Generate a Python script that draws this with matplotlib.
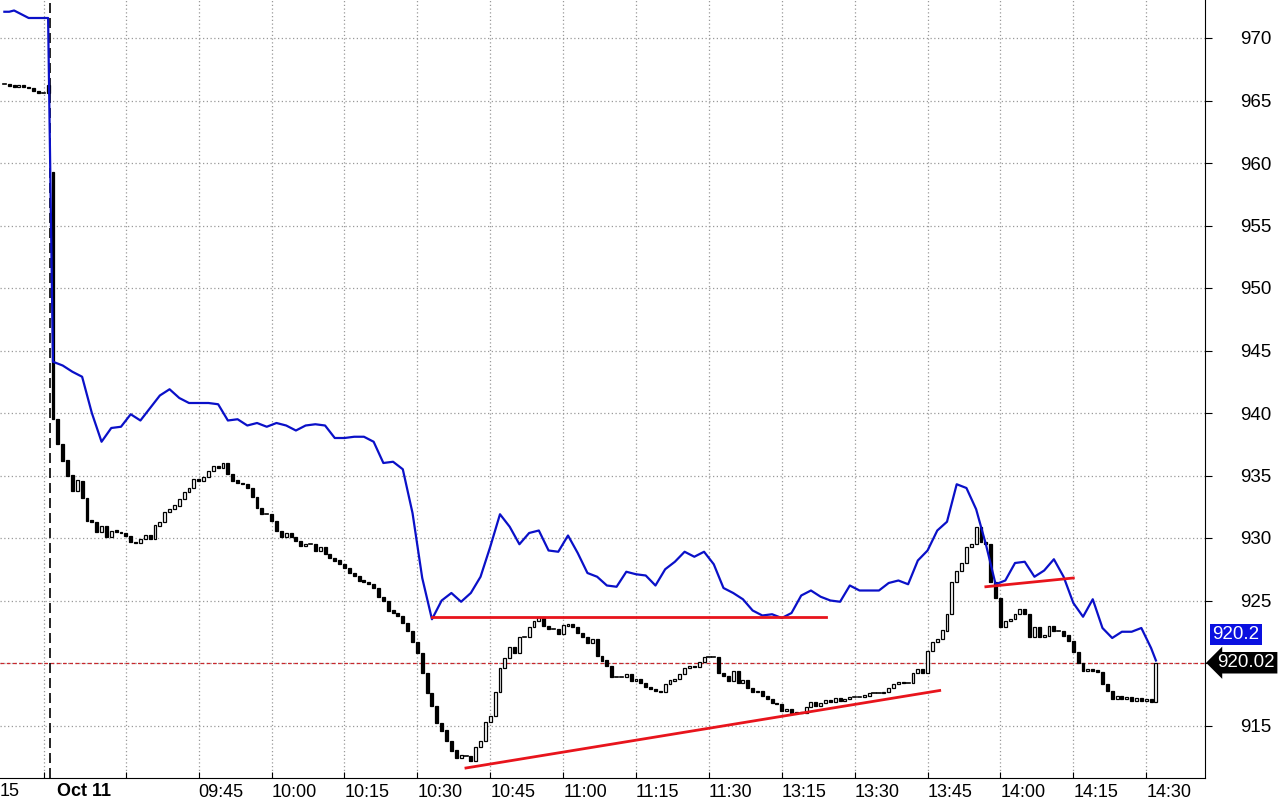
import numpy as np
import matplotlib
matplotlib.use('Agg')
import matplotlib.pyplot as plt

plt.rcParams['font.family'] = ['Liberation Sans', 'DejaVu Sans']

# previous session tail (bars -10..-1) and today's closes (bars 0..227)
prev_closes = [966.3, 966.2, 966.1, 966.2, 966.1, 966.0, 965.8, 965.6, 965.6, 966.2]
closes = [
    939.5, 937.5, 936.2, 935.0, 933.8, 934.6, 933.2, 931.4, 931.3, 930.5,
    931.0, 930.1, 930.6, 930.5, 930.4, 930.2, 929.7, 929.6, 929.9, 930.2,
    929.9, 931.0, 931.3, 932.1, 932.3, 932.6, 933.1, 933.7, 934.0, 934.7,
    934.6, 934.9, 935.4, 935.8, 935.6, 936.0, 935.1, 934.6, 934.4, 934.3,
    934.0, 933.3, 932.4, 931.9, 931.9, 931.4, 930.6, 930.1, 930.4, 930.1,
    929.8, 929.4, 929.5, 929.5, 929.0, 929.3, 928.7, 928.4, 928.2, 927.9,
    927.6, 927.2, 927.0, 926.6, 926.5, 926.3, 926.0, 925.3, 925.0, 924.2,
    924.0, 923.8, 923.2, 922.6, 921.7, 920.8, 919.2, 917.6, 916.6, 915.2,
    914.6, 913.8, 913.0, 912.4, 912.6, 912.6, 912.2, 913.3, 913.8, 915.3,
    915.8, 917.7, 919.6, 920.4, 921.3, 920.8, 922.1, 922.1, 922.9, 923.4,
    923.7, 923.0, 922.7, 922.7, 922.3, 923.0, 923.1, 922.9, 922.4, 922.1,
    921.6, 921.9, 920.6, 920.2, 919.8, 918.9, 918.9, 918.9, 919.1, 918.6,
    918.7, 918.4, 918.1, 917.9, 917.8, 917.7, 918.3, 918.6, 918.7, 919.1,
    919.6, 919.8, 919.7, 920.1, 920.5, 920.5, 920.5, 919.2, 919.0, 918.6,
    919.4, 918.4, 918.6, 918.0, 917.7, 917.8, 917.4, 917.1, 916.8, 916.7,
    916.2, 916.3, 916.0, 916.1, 916.0, 916.5, 916.9, 916.6, 916.8, 917.0,
    916.9, 917.2, 917.0, 917.1, 917.3, 917.3, 917.3, 917.4, 917.6, 917.6,
    917.6, 917.7, 918.0, 918.3, 918.5, 918.4, 918.4, 919.2, 919.5, 919.2,
    921.0, 921.7, 921.9, 922.6, 923.9, 926.5, 927.4, 928.0, 929.3, 929.5,
    930.9, 929.7, 929.5, 926.5, 925.2, 922.9, 923.4, 923.5, 923.9, 924.3,
    923.9, 922.1, 922.9, 922.1, 922.2, 923.0, 922.6, 922.6, 922.2, 921.8,
    920.9, 920.0, 919.4, 919.5, 919.4, 919.3, 918.3, 917.8, 917.1, 917.4,
    917.1, 917.3, 917.0, 917.2, 917.0, 917.1, 916.9, 920.0,
]
first_open = 959.3

# blue comparison line: previous session, then every second bar
blue_prev = [972.1, 972.1, 972.2, 972.0, 971.8, 971.6, 971.6, 971.6, 971.6, 971.6]
blue = [
    944.1, 943.8, 943.3, 942.9, 940.0, 937.7, 938.8, 938.9, 939.9, 939.4,
    940.4, 941.4, 941.9, 941.2, 940.8, 940.8, 940.8, 940.7, 939.4, 939.5,
    939.0, 939.2, 938.9, 939.2, 939.0, 938.6, 939.0, 939.1, 939.0, 938.0,
    938.0, 938.1, 938.1, 937.7, 936.0, 936.1, 935.5, 932.0, 926.8, 923.5,
    925.0, 925.6, 924.9, 925.6, 926.9, 929.3, 931.9, 930.9, 929.5, 930.4,
    930.6, 929.0, 928.9, 930.2, 928.8, 927.2, 926.9, 926.2, 926.1, 927.3,
    927.1, 927.0, 926.2, 927.5, 928.1, 928.9, 928.5, 928.9, 927.9, 926.0,
    925.6, 925.1, 924.2, 923.8, 923.9, 923.6, 924.0, 925.4, 925.8, 925.3,
    925.0, 924.9, 926.2, 925.8, 925.8, 925.8, 926.4, 926.6, 926.3, 928.2,
    929.0, 930.6, 931.3, 934.3, 934.0, 932.3, 929.5, 926.3, 926.6, 928.0,
    928.1, 926.9, 927.4, 928.3, 926.9, 924.8, 923.7, 925.1, 922.8, 922.0,
    922.5, 922.5, 922.8, 921.2,
]
blue_last = 920.2

tick_labels = ['', '09:45', '10:00', '10:15', '10:30', '10:45', '11:00', '11:15',
               '11:30', '13:15', '13:30', '13:45', '14:00', '14:15', '14:30']
y_ticks = list(range(915, 971, 5))

# trend lines drawn on the chart: (bar_start, value_start, bar_end, value_end)
trend_lines = [(78, 923.7, 159, 923.7), (85, 911.6, 182.5, 917.8), (192, 926.1, 210, 926.8)]
last_price = 920.02

fig = plt.figure(figsize=(12.86, 8.07), dpi=100)
ax = fig.add_axes([0, 29 / 807, 1205 / 1286, 778 / 807])

all_closes = prev_closes + closes
opens = [prev_closes[0]] + all_closes[:-1]
opens[len(prev_closes)] = first_open
xs = np.arange(-len(prev_closes), len(closes))
for x, o, c in zip(xs, opens, all_closes):
    h = abs(c - o)
    if h < 0.08:
        ax.plot([x - 0.35, x + 0.35], [c, c], color='black', lw=1.2, zorder=3)
        continue
    fc = 'white' if c > o else 'black'
    ax.bar(x, h, bottom=min(o, c), width=0.6, color=fc, edgecolor='black', lw=0.9, zorder=3)

bx = list(range(-len(blue_prev), 0)) + list(range(0, 2 * len(blue), 2)) + [len(closes) - 1]
ax.plot(bx, blue_prev + blue + [blue_last], color='#0a10c8', lw=1.6, zorder=4)

for x0, y0, x1, y1 in trend_lines:
    ax.plot([x0, x1], [y0, y1], color='#e8141c', lw=2, zorder=5)

ax.axhline(last_price, color='#c8282d', lw=0.9, ls=(0, (3, 2)), zorder=2)
ax.axvline(-0.6, color='black', lw=1.2, ls=(0, (6, 3)), zorder=2)

ax.set_xlim(-10.9, 237.1)
ax.set_ylim(910.8, 973.04)

ticks = [15 * k for k in range(1, 16)]
ax.set_xticks(ticks + [-1.9])
ax.set_xticklabels(tick_labels + [''], ha='left', fontsize=13)
ax.set_yticks(y_ticks)
# the 920 label sits under the last-price box
ax.set_yticklabels(['' if v == 920 else str(v) for v in y_ticks])
ax.yaxis.tick_right()
ax.tick_params(axis='y', labelsize=13.5, length=5, direction='out', pad=20)
ax.tick_params(axis='x', length=4, direction='in', pad=4)
ax.grid(True, color='#999999', ls=(0, (1, 2)), lw=0.9)
for s in ['top', 'left']:
    ax.spines[s].set_visible(False)

ax.text(-10.9, 910.4, '15', ha='left', va='top', fontsize=13)
ax.text(0.8, 910.4, 'Oct 11', ha='left', va='top', fontsize=13, fontweight='bold')

ax.annotate('920.2', xy=(1.006, blue_last + 2.1), xycoords=('axes fraction', 'data'),
            ha='left', va='center', fontsize=13.5, color='white',
            bbox=dict(boxstyle='square,pad=0.12', fc='#0a10e0', ec='none'))
ax.annotate('920.02', xy=(1.0, last_price), xycoords=('axes fraction', 'data'),
            xytext=(9, 0), textcoords='offset points',
            ha='left', va='center', fontsize=13.5, color='white',
            bbox=dict(boxstyle='larrow,pad=0.12', fc='black', ec='none'))

fig.savefig('out.png', dpi=100)
